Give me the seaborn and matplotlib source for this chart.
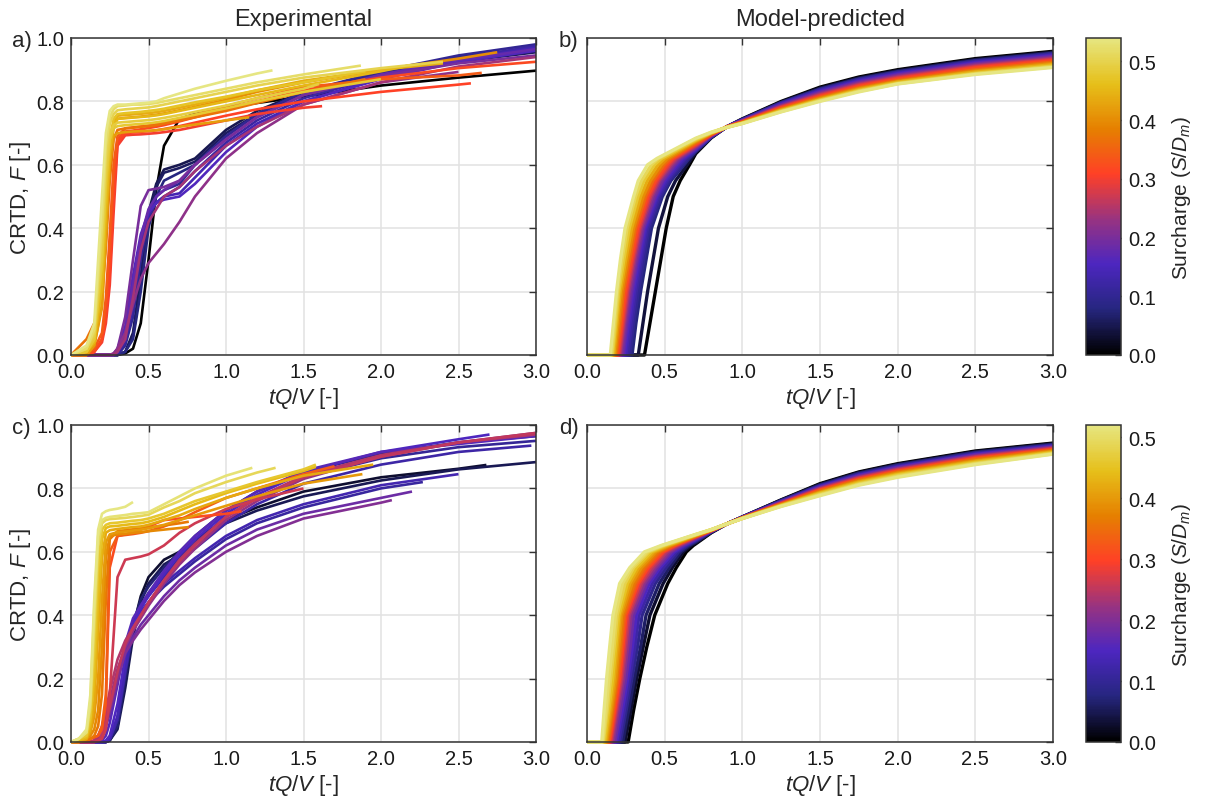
import numpy as np
import pandas as pd
import matplotlib
matplotlib.use("Agg")
import matplotlib.pyplot as plt
import matplotlib.colors as mcolors
import matplotlib.cm as mcm
import seaborn as sns


# tQ/V values at which the experimental curves were read (panel a / panel c)
grid_top = [0.0, 0.1, 0.15, 0.2, 0.225, 0.25, 0.275, 0.3, 0.35, 0.4, 0.45,
            0.5, 0.55, 0.6, 0.7, 0.8, 1.0, 1.2, 1.5, 2.0, 2.5, 3.0]
grid_bot = [0.0, 0.05, 0.1, 0.125, 0.15, 0.175, 0.2, 0.225, 0.25, 0.3, 0.35,
            0.4, 0.45, 0.5, 0.6, 0.7, 0.8, 1.0, 1.2, 1.5, 2.0, 2.5, 3.0]

# experimental, panel a: (surcharge S/Dm, last tQ/V of the record, F values)
exp_a = [
    (0.54, 1.30, [0, 0.03, 0.1, 0.5, 0.7, 0.77, 0.785, 0.79, 0.79, 0.792, 0.794, 0.796, 0.80, 0.81, 0.825, 0.84, 0.865, 0.888, 0.898]),
    (0.52, 1.87, [0, 0.02, 0.08, 0.42, 0.66, 0.75, 0.775, 0.785, 0.787, 0.79, 0.79, 0.792, 0.795, 0.80, 0.81, 0.82, 0.84, 0.86, 0.885, 0.913]),
    (0.50, 2.40, [0, 0.02, 0.07, 0.38, 0.62, 0.73, 0.76, 0.772, 0.775, 0.777, 0.779, 0.781, 0.785, 0.79, 0.80, 0.81, 0.83, 0.85, 0.875, 0.905, 0.925]),
    (0.49, 1.60, [0, 0.02, 0.06, 0.33, 0.58, 0.70, 0.725, 0.733, 0.735, 0.737, 0.739, 0.741, 0.744, 0.748, 0.757, 0.767, 0.787, 0.81, 0.84, 0.855]),
    (0.48, 2.00, [0, 0.01, 0.05, 0.30, 0.55, 0.68, 0.715, 0.722, 0.725, 0.727, 0.729, 0.731, 0.734, 0.738, 0.748, 0.758, 0.778, 0.80, 0.83, 0.87]),
    (0.47, 1.90, [0, 0.01, 0.05, 0.28, 0.52, 0.68, 0.745, 0.76, 0.763, 0.765, 0.767, 0.77, 0.773, 0.777, 0.787, 0.797, 0.815, 0.835, 0.86, 0.895]),
    (0.45, 2.20, [0, 0.01, 0.04, 0.22, 0.45, 0.64, 0.725, 0.745, 0.747, 0.749, 0.751, 0.753, 0.756, 0.76, 0.77, 0.78, 0.80, 0.82, 0.85, 0.895, 0.915]),
    (0.44, 2.40, [0, 0.01, 0.04, 0.22, 0.46, 0.65, 0.735, 0.755, 0.757, 0.759, 0.761, 0.763, 0.766, 0.77, 0.78, 0.79, 0.812, 0.835, 0.865, 0.90, 0.92]),
    (0.42, 1.15, [0, 0, 0.03, 0.16, 0.38, 0.60, 0.69, 0.70, 0.703, 0.705, 0.706, 0.707, 0.709, 0.712, 0.72, 0.727, 0.74, 0.75]),
    (0.40, 2.75, [0, 0, 0.03, 0.15, 0.36, 0.60, 0.72, 0.745, 0.748, 0.75, 0.752, 0.755, 0.758, 0.762, 0.772, 0.783, 0.805, 0.83, 0.86, 0.90, 0.935, 0.955]),
    (0.37, 1.90, [0, 0.05, 0.1, 0.2, 0.34, 0.55, 0.68, 0.71, 0.715, 0.717, 0.72, 0.722, 0.725, 0.73, 0.74, 0.75, 0.77, 0.795, 0.83, 0.87]),
    (0.34, 2.65, [0, 0, 0.02, 0.07, 0.18, 0.38, 0.60, 0.69, 0.715, 0.718, 0.721, 0.724, 0.728, 0.733, 0.745, 0.758, 0.785, 0.81, 0.845, 0.87, 0.882, 0.89]),
    (0.32, 3.00, [0, 0, 0.01, 0.05, 0.14, 0.30, 0.55, 0.68, 0.705, 0.708, 0.712, 0.716, 0.72, 0.725, 0.737, 0.75, 0.775, 0.80, 0.835, 0.875, 0.905, 0.925]),
    (0.31, 2.58, [0, 0, 0.01, 0.05, 0.12, 0.26, 0.50, 0.67, 0.70, 0.702, 0.704, 0.706, 0.709, 0.713, 0.722, 0.733, 0.755, 0.775, 0.80, 0.83, 0.853, 0.857]),
    (0.30, 1.62, [0, 0, 0.01, 0.04, 0.10, 0.22, 0.45, 0.66, 0.693, 0.695, 0.696, 0.698, 0.70, 0.703, 0.71, 0.72, 0.74, 0.76, 0.78, 0.785]),
    (0.00, 3.00, [0] * 8 + [0.005, 0.02, 0.1, 0.3, 0.52, 0.66, 0.745, 0.76, 0.78, 0.795, 0.815, 0.85, 0.875, 0.897]),
    (0.05, 3.00, [0] * 8 + [0.01, 0.07, 0.25, 0.45, 0.54, 0.585, 0.6, 0.62, 0.71, 0.77, 0.83, 0.89, 0.935, 0.962]),
    (0.06, 3.00, [0] * 8 + [0.01, 0.06, 0.22, 0.43, 0.53, 0.575, 0.59, 0.61, 0.70, 0.76, 0.82, 0.88, 0.925, 0.955]),
    (0.08, 3.00, [0] * 8 + [0.01, 0.05, 0.2, 0.4, 0.5, 0.55, 0.575, 0.6, 0.69, 0.76, 0.83, 0.89, 0.94, 0.97]),
    (0.10, 3.00, [0] * 7 + [0.0, 0.03, 0.12, 0.3, 0.43, 0.5, 0.52, 0.54, 0.6, 0.69, 0.76, 0.83, 0.895, 0.945, 0.98]),
    (0.12, 3.00, [0] * 7 + [0.005, 0.04, 0.15, 0.33, 0.44, 0.48, 0.50, 0.53, 0.58, 0.67, 0.74, 0.81, 0.88, 0.935, 0.975]),
    (0.14, 3.00, [0] * 7 + [0.01, 0.06, 0.2, 0.36, 0.45, 0.48, 0.5, 0.51, 0.56, 0.66, 0.73, 0.80, 0.875, 0.93, 0.97]),
    (0.16, 3.00, [0] * 7 + [0.02, 0.09, 0.25, 0.38, 0.45, 0.48, 0.49, 0.50, 0.54, 0.64, 0.72, 0.80, 0.87, 0.925, 0.96]),
    (0.18, 3.00, [0] * 7 + [0.01, 0.07, 0.22, 0.37, 0.46, 0.5, 0.52, 0.55, 0.6, 0.68, 0.75, 0.82, 0.885, 0.93, 0.965]),
    (0.20, 3.00, [0] * 6 + [0.005, 0.02, 0.12, 0.3, 0.47, 0.52, 0.525, 0.53, 0.55, 0.6, 0.68, 0.75, 0.82, 0.88, 0.92, 0.945]),
    (0.22, 2.50, [0] * 6 + [0.005, 0.02, 0.07, 0.16, 0.24, 0.29, 0.32, 0.35, 0.42, 0.5, 0.62, 0.70, 0.79, 0.86, 0.893]),
    (0.24, 3.00, [0] * 7 + [0.01, 0.05, 0.18, 0.33, 0.42, 0.46, 0.5, 0.53, 0.58, 0.66, 0.72, 0.79, 0.86, 0.91, 0.94]),
]

# experimental, panel c
exp_c = [
    (0.52, 0.40, [0, 0.01, 0.04, 0.15, 0.45, 0.67, 0.72, 0.728, 0.732, 0.736, 0.742, 0.757]),
    (0.51, 1.17, [0, 0.01, 0.03, 0.13, 0.42, 0.65, 0.70, 0.707, 0.71, 0.713, 0.716, 0.72, 0.722, 0.725, 0.75, 0.775, 0.80, 0.84, 0.865]),
    (0.49, 1.32, [0, 0.01, 0.03, 0.11, 0.36, 0.62, 0.69, 0.70, 0.703, 0.705, 0.707, 0.71, 0.713, 0.717, 0.74, 0.76, 0.785, 0.82, 0.85, 0.865]),
    (0.46, 1.58, [0, 0.01, 0.02, 0.08, 0.28, 0.55, 0.67, 0.685, 0.69, 0.692, 0.695, 0.698, 0.70, 0.705, 0.72, 0.74, 0.76, 0.79, 0.82, 0.86, 0.875]),
    (0.44, 1.58, [0, 0.005, 0.015, 0.06, 0.2, 0.45, 0.64, 0.675, 0.68, 0.682, 0.685, 0.688, 0.69, 0.695, 0.71, 0.73, 0.75, 0.785, 0.815, 0.855, 0.868]),
    (0.42, 1.95, [0, 0.005, 0.01, 0.04, 0.12, 0.35, 0.58, 0.66, 0.668, 0.672, 0.675, 0.678, 0.68, 0.685, 0.70, 0.715, 0.735, 0.77, 0.80, 0.84, 0.875]),
    (0.40, 1.88, [0, 0, 0.01, 0.03, 0.08, 0.2, 0.45, 0.63, 0.655, 0.662, 0.664, 0.667, 0.67, 0.674, 0.685, 0.70, 0.715, 0.745, 0.775, 0.815, 0.845]),
    (0.38, 0.76, [0, 0, 0.01, 0.02, 0.04, 0.1, 0.3, 0.58, 0.65, 0.655, 0.657, 0.66, 0.662, 0.665, 0.67, 0.675, 0.678]),
    (0.36, 0.76, [0, 0, 0.005, 0.01, 0.02, 0.05, 0.15, 0.45, 0.64, 0.665, 0.668, 0.671, 0.674, 0.677, 0.683, 0.69, 0.695]),
    (0.33, 1.70, [0, 0, 0.005, 0.01, 0.015, 0.02, 0.05, 0.15, 0.6, 0.65, 0.653, 0.656, 0.66, 0.665, 0.68, 0.70, 0.725, 0.77, 0.80, 0.845, 0.87]),
    (0.31, 1.10, [0, 0, 0.005, 0.01, 0.015, 0.02, 0.04, 0.12, 0.55, 0.65, 0.655, 0.66, 0.67, 0.68, 0.70, 0.705, 0.71, 0.72, 0.728]),
    (0.26, 1.50, [0, 0, 0, 0, 0, 0.005, 0.01, 0.04, 0.15, 0.52, 0.575, 0.58, 0.585, 0.592, 0.62, 0.66, 0.69, 0.735, 0.765, 0.80]),
    (0.03, 2.68, [0] * 8 + [0.005, 0.05, 0.2, 0.36, 0.46, 0.52, 0.575, 0.6, 0.64, 0.70, 0.74, 0.79, 0.835, 0.862, 0.874]),
    (0.05, 3.00, [0] * 8 + [0.005, 0.04, 0.17, 0.33, 0.44, 0.5, 0.56, 0.59, 0.625, 0.69, 0.73, 0.775, 0.825, 0.86, 0.883]),
    (0.07, 3.00, [0] * 8 + [0.005, 0.05, 0.2, 0.37, 0.45, 0.49, 0.55, 0.6, 0.65, 0.73, 0.79, 0.85, 0.91, 0.945, 0.965]),
    (0.10, 3.00, [0] * 8 + [0.01, 0.07, 0.22, 0.37, 0.43, 0.47, 0.53, 0.58, 0.63, 0.71, 0.77, 0.835, 0.895, 0.93, 0.95]),
    (0.11, 2.27, [0] * 8 + [0.01, 0.07, 0.22, 0.35, 0.41, 0.44, 0.49, 0.53, 0.57, 0.64, 0.69, 0.74, 0.8, 0.82]),
    (0.12, 2.97, [0] * 8 + [0.01, 0.08, 0.24, 0.38, 0.43, 0.46, 0.52, 0.57, 0.61, 0.69, 0.75, 0.815, 0.875, 0.915, 0.935]),
    (0.13, 2.50, [0] * 8 + [0.01, 0.08, 0.23, 0.36, 0.41, 0.44, 0.5, 0.54, 0.58, 0.65, 0.7, 0.75, 0.81, 0.845]),
    (0.15, 2.70, [0] * 7 + [0.005, 0.02, 0.12, 0.27, 0.37, 0.42, 0.46, 0.53, 0.59, 0.64, 0.72, 0.78, 0.85, 0.915, 0.955, 0.97]),
    (0.16, 3.00, [0] * 6 + [0.005, 0.02, 0.06, 0.18, 0.31, 0.39, 0.43, 0.47, 0.54, 0.6, 0.65, 0.73, 0.79, 0.855, 0.915, 0.94, 0.965]),
    (0.18, 2.20, [0] * 5 + [0.005, 0.02, 0.05, 0.09, 0.19, 0.29, 0.33, 0.37, 0.4, 0.46, 0.51, 0.55, 0.62, 0.67, 0.72, 0.77, 0.79]),
    (0.20, 2.07, [0] * 5 + [0.005, 0.02, 0.05, 0.1, 0.2, 0.28, 0.32, 0.355, 0.385, 0.445, 0.495, 0.535, 0.6, 0.65, 0.705, 0.755, 0.763]),
    (0.22, 3.00, [0] * 4 + [0.005, 0.015, 0.04, 0.08, 0.13, 0.23, 0.3, 0.35, 0.39, 0.43, 0.5, 0.56, 0.61, 0.7, 0.76, 0.83, 0.9, 0.945, 0.975]),
    (0.24, 3.00, [0] * 4 + [0.005, 0.02, 0.05, 0.1, 0.16, 0.26, 0.32, 0.36, 0.4, 0.44, 0.51, 0.575, 0.625, 0.71, 0.77, 0.84, 0.905, 0.945, 0.97]),
    (0.25, 3.00, [0] * 5 + [0.005, 0.02, 0.06, 0.11, 0.22, 0.31, 0.36, 0.4, 0.44, 0.51, 0.57, 0.62, 0.71, 0.77, 0.835, 0.9, 0.945, 0.975]),
]

# model-predicted curves: tQ/V where F reaches each rise level, then F at fixed tQ/V
rise_levels = [0.0, 0.1, 0.2, 0.3, 0.4, 0.5, 0.55, 0.6, 0.62]
tail_x = [0.7, 0.8, 0.9, 1.0, 1.25, 1.5, 1.75, 2.0, 2.5, 3.0]

model_b_s = [0.0, 0.04, 0.08, 0.10, 0.12, 0.14, 0.16, 0.18, 0.20, 0.23,
             0.26, 0.29, 0.32, 0.36, 0.40, 0.44, 0.48, 0.51, 0.54]
model_b_rise = [
    [0.37, 0.405, 0.44, 0.475, 0.51, 0.555, 0.60, 0.66, 0.683],
    [0.33, 0.36, 0.39, 0.425, 0.46, 0.52, 0.57, 0.645, 0.672],
    [0.29, 0.315, 0.345, 0.38, 0.415, 0.485, 0.54, 0.625, 0.658],
    [0.275, 0.30, 0.33, 0.365, 0.40, 0.475, 0.53, 0.615, 0.648],
    [0.262, 0.288, 0.317, 0.352, 0.39, 0.465, 0.52, 0.60, 0.636],
    [0.25, 0.277, 0.306, 0.342, 0.38, 0.455, 0.51, 0.59, 0.626],
    [0.24, 0.267, 0.296, 0.333, 0.372, 0.447, 0.50, 0.578, 0.615],
    [0.232, 0.258, 0.288, 0.325, 0.365, 0.44, 0.49, 0.568, 0.605],
    [0.225, 0.25, 0.28, 0.318, 0.36, 0.432, 0.482, 0.56, 0.597],
    [0.216, 0.242, 0.271, 0.309, 0.351, 0.42, 0.47, 0.548, 0.585],
    [0.209, 0.235, 0.262, 0.30, 0.342, 0.41, 0.46, 0.536, 0.573],
    [0.202, 0.228, 0.254, 0.292, 0.334, 0.40, 0.45, 0.524, 0.561],
    [0.196, 0.221, 0.246, 0.284, 0.325, 0.39, 0.44, 0.512, 0.55],
    [0.188, 0.212, 0.235, 0.273, 0.312, 0.377, 0.424, 0.496, 0.535],
    [0.18, 0.202, 0.224, 0.261, 0.30, 0.362, 0.408, 0.478, 0.518],
    [0.172, 0.193, 0.214, 0.249, 0.287, 0.345, 0.388, 0.456, 0.498],
    [0.164, 0.185, 0.205, 0.237, 0.272, 0.328, 0.367, 0.434, 0.478],
    [0.158, 0.178, 0.197, 0.225, 0.258, 0.312, 0.35, 0.414, 0.46],
    [0.15, 0.17, 0.19, 0.215, 0.245, 0.30, 0.33, 0.39, 0.45],
]
model_b_tail = [
    [0.635, 0.685, 0.72, 0.745, 0.80, 0.845, 0.877, 0.90, 0.935, 0.958],
    [0.638, 0.686, 0.72, 0.744, 0.798, 0.842, 0.874, 0.897, 0.932, 0.955],
    [0.642, 0.687, 0.72, 0.743, 0.796, 0.839, 0.871, 0.894, 0.929, 0.952],
    [0.644, 0.688, 0.72, 0.742, 0.795, 0.837, 0.869, 0.892, 0.927, 0.950],
    [0.646, 0.689, 0.72, 0.741, 0.793, 0.835, 0.867, 0.890, 0.925, 0.948],
    [0.648, 0.69, 0.72, 0.741, 0.792, 0.833, 0.865, 0.888, 0.923, 0.946],
    [0.65, 0.691, 0.72, 0.740, 0.790, 0.831, 0.863, 0.886, 0.921, 0.944],
    [0.652, 0.692, 0.72, 0.739, 0.789, 0.829, 0.861, 0.884, 0.919, 0.942],
    [0.654, 0.692, 0.72, 0.739, 0.787, 0.827, 0.859, 0.882, 0.917, 0.940],
    [0.657, 0.693, 0.72, 0.738, 0.785, 0.824, 0.856, 0.879, 0.914, 0.937],
    [0.66, 0.694, 0.72, 0.737, 0.783, 0.821, 0.853, 0.876, 0.911, 0.934],
    [0.663, 0.695, 0.72, 0.736, 0.781, 0.818, 0.85, 0.873, 0.908, 0.931],
    [0.666, 0.696, 0.719, 0.735, 0.779, 0.815, 0.847, 0.870, 0.905, 0.928],
    [0.669, 0.698, 0.719, 0.734, 0.776, 0.812, 0.843, 0.866, 0.900, 0.924],
    [0.673, 0.699, 0.719, 0.733, 0.774, 0.809, 0.84, 0.863, 0.896, 0.920],
    [0.676, 0.70, 0.719, 0.732, 0.772, 0.806, 0.837, 0.861, 0.893, 0.916],
    [0.679, 0.701, 0.718, 0.731, 0.770, 0.804, 0.834, 0.858, 0.889, 0.912],
    [0.682, 0.702, 0.718, 0.731, 0.768, 0.802, 0.832, 0.856, 0.887, 0.909],
    [0.684, 0.703, 0.718, 0.730, 0.767, 0.80, 0.83, 0.855, 0.885, 0.907],
]

model_d_s = [0.0, 0.03, 0.06, 0.09, 0.12, 0.15, 0.18, 0.21, 0.24, 0.27,
             0.30, 0.33, 0.36, 0.39, 0.42, 0.45, 0.48, 0.50, 0.52]
model_d_rise = [
    [0.265, 0.30, 0.34, 0.385, 0.436, 0.52, 0.575, 0.64, 0.685],
    [0.245, 0.282, 0.32, 0.362, 0.405, 0.49, 0.55, 0.62, 0.672],
    [0.23, 0.268, 0.305, 0.345, 0.38, 0.465, 0.53, 0.605, 0.66],
    [0.215, 0.252, 0.288, 0.325, 0.355, 0.44, 0.51, 0.59, 0.648],
    [0.203, 0.24, 0.275, 0.308, 0.335, 0.42, 0.49, 0.575, 0.636],
    [0.19, 0.227, 0.262, 0.292, 0.318, 0.40, 0.47, 0.56, 0.624],
    [0.18, 0.215, 0.25, 0.278, 0.30, 0.385, 0.455, 0.545, 0.612],
    [0.168, 0.202, 0.237, 0.262, 0.285, 0.37, 0.44, 0.53, 0.60],
    [0.158, 0.192, 0.226, 0.25, 0.272, 0.355, 0.425, 0.515, 0.588],
    [0.152, 0.185, 0.218, 0.24, 0.262, 0.343, 0.41, 0.50, 0.576],
    [0.145, 0.178, 0.21, 0.231, 0.252, 0.33, 0.395, 0.49, 0.567],
    [0.14, 0.17, 0.2, 0.222, 0.243, 0.318, 0.38, 0.475, 0.556],
    [0.133, 0.163, 0.192, 0.213, 0.233, 0.305, 0.365, 0.46, 0.545],
    [0.127, 0.156, 0.185, 0.204, 0.223, 0.29, 0.35, 0.445, 0.533],
    [0.12, 0.148, 0.175, 0.194, 0.213, 0.275, 0.333, 0.43, 0.521],
    [0.113, 0.14, 0.165, 0.185, 0.205, 0.26, 0.318, 0.415, 0.508],
    [0.105, 0.13, 0.152, 0.174, 0.194, 0.245, 0.30, 0.398, 0.495],
    [0.10, 0.122, 0.141, 0.163, 0.183, 0.228, 0.287, 0.385, 0.485],
    [0.095, 0.11, 0.126, 0.146, 0.167, 0.21, 0.275, 0.37, 0.478],
]
model_d_tail = [
    [0.625, 0.66, 0.688, 0.71, 0.764, 0.815, 0.852, 0.878, 0.918, 0.943],
    [0.628, 0.661, 0.688, 0.71, 0.763, 0.813, 0.85, 0.876, 0.916, 0.941],
    [0.631, 0.662, 0.688, 0.71, 0.762, 0.811, 0.848, 0.874, 0.914, 0.939],
    [0.634, 0.663, 0.688, 0.709, 0.761, 0.809, 0.846, 0.872, 0.912, 0.937],
    [0.637, 0.664, 0.688, 0.709, 0.759, 0.807, 0.843, 0.869, 0.909, 0.935],
    [0.639, 0.665, 0.688, 0.709, 0.758, 0.805, 0.841, 0.867, 0.907, 0.933],
    [0.641, 0.665, 0.688, 0.708, 0.757, 0.803, 0.839, 0.865, 0.905, 0.931],
    [0.643, 0.666, 0.688, 0.708, 0.755, 0.801, 0.836, 0.862, 0.902, 0.929],
    [0.645, 0.666, 0.688, 0.708, 0.754, 0.799, 0.834, 0.86, 0.90, 0.927],
    [0.647, 0.667, 0.688, 0.707, 0.753, 0.797, 0.832, 0.858, 0.898, 0.925],
    [0.648, 0.667, 0.688, 0.707, 0.751, 0.795, 0.829, 0.855, 0.895, 0.923],
    [0.649, 0.668, 0.688, 0.707, 0.75, 0.793, 0.827, 0.853, 0.893, 0.921],
    [0.65, 0.668, 0.688, 0.706, 0.749, 0.79, 0.825, 0.85, 0.89, 0.919],
    [0.651, 0.669, 0.688, 0.706, 0.748, 0.788, 0.822, 0.848, 0.887, 0.917],
    [0.652, 0.669, 0.688, 0.706, 0.747, 0.786, 0.82, 0.845, 0.885, 0.915],
    [0.653, 0.669, 0.688, 0.706, 0.746, 0.784, 0.817, 0.843, 0.882, 0.913],
    [0.654, 0.67, 0.688, 0.705, 0.745, 0.781, 0.814, 0.84, 0.879, 0.911],
    [0.6545, 0.67, 0.688, 0.705, 0.744, 0.779, 0.812, 0.837, 0.877, 0.909],
    [0.655, 0.67, 0.688, 0.705, 0.743, 0.777, 0.81, 0.835, 0.875, 0.908],
]

s_max_top = 0.54
s_max_bot = 0.52


def exp_frame(grid, curves):
    rows = []
    for i, (s, end, ys) in enumerate(curves):
        xs = [g for g in grid if g < end] + [end]
        assert len(xs) == len(ys), (s, end, len(xs), len(ys))
        rows += [(i, s, x, y) for x, y in zip(xs, ys)]
    return pd.DataFrame(rows, columns=["curve", "S", "tQV", "F"])


def model_frame(svals, rises, tails):
    rows = []
    for i, (s, rx, tf) in enumerate(zip(svals, rises, tails)):
        xs = [0.0] + rx + tail_x
        ys = [0.0] + rise_levels + tf
        assert len(xs) == len(ys)
        rows += [(i, s, x, y) for x, y in zip(xs, ys)]
    return pd.DataFrame(rows, columns=["curve", "S", "tQV", "F"])


sns.set_style("white")
plt.rcParams["font.family"] = ["Liberation Sans", "DejaVu Sans"]
plt.rcParams["mathtext.fontset"] = "custom"
plt.rcParams["mathtext.rm"] = "Liberation Sans"
plt.rcParams["mathtext.it"] = "Liberation Sans:italic"
plt.rcParams["mathtext.bf"] = "Liberation Sans:bold"

cmap = mcolors.ListedColormap(plt.get_cmap("CMRmap")(np.linspace(0, 0.875, 256)))
norm_top = mcolors.Normalize(0, s_max_top)
norm_bot = mcolors.Normalize(0, s_max_bot)

W, H = 1205, 803
fig = plt.figure(figsize=(W / 100, H / 100), dpi=100)


def px_axes(left, top, right, bottom):
    return fig.add_axes([left / W, 1 - bottom / H, (right - left) / W, (bottom - top) / H])


ax_a = px_axes(71, 39, 536, 356)
ax_b = px_axes(587, 39, 1053, 356)
cax_top = px_axes(1086, 39, 1121, 356)
ax_c = px_axes(71, 426, 536, 743)
ax_d = px_axes(587, 426, 1053, 743)
cax_bot = px_axes(1086, 426, 1121, 743)

panels = [
    (ax_a, exp_frame(grid_top, exp_a), norm_top, 1.9),
    (ax_b, model_frame(model_b_s, model_b_rise, model_b_tail), norm_top, 2.4),
    (ax_c, exp_frame(grid_bot, exp_c), norm_bot, 1.9),
    (ax_d, model_frame(model_d_s, model_d_rise, model_d_tail), norm_bot, 2.4),
]

for ax, df, norm, lw in panels:
    sns.lineplot(data=df, x="tQV", y="F", hue="S", units="curve", estimator=None,
                 sort=False, palette=cmap, hue_norm=norm, legend=False,
                 linewidth=lw, ax=ax)
    for ln in ax.lines:
        ln.set_clip_on(False)
        ln.set_solid_capstyle("butt")
        ln.set_solid_joinstyle("round")
    ax.set_xlim(0, 3)
    ax.set_ylim(0, 1)
    ax.set_xticks(np.arange(0, 3.01, 0.5))
    ax.set_yticks(np.arange(0, 1.01, 0.2))
    ax.xaxis.set_major_formatter(matplotlib.ticker.FormatStrFormatter("%.1f"))
    ax.yaxis.set_major_formatter(matplotlib.ticker.FormatStrFormatter("%.1f"))
    ax.grid(True, color="#e2e2e2", lw=1.1)
    ax.set_axisbelow(True)
    ax.tick_params(direction="in", top=True, right=True, length=5, width=1,
                   labelsize=14.5, color="#333333", labelcolor="#1a1a1a", pad=5)
    for sp in ax.spines.values():
        sp.set_color("#333333")
        sp.set_linewidth(1.1)
    ax.set_xlabel(r"$tQ/V$ [-]", fontsize=16, labelpad=3)
    ax.set_ylabel("")

for ax in (ax_a, ax_c):
    ax.set_ylabel(r"CRTD, $F$ [-]", fontsize=16, labelpad=2)
for ax in (ax_b, ax_d):
    ax.tick_params(labelleft=False)

for cax, norm in ((cax_top, norm_top), (cax_bot, norm_bot)):
    cb = fig.colorbar(mcm.ScalarMappable(norm=norm, cmap=cmap), cax=cax)
    cb.set_ticks([0, 0.1, 0.2, 0.3, 0.4, 0.5])
    cb.ax.yaxis.set_major_formatter(matplotlib.ticker.FormatStrFormatter("%.1f"))
    cb.ax.tick_params(direction="in", length=4, width=1, labelsize=14.5,
                      color="#333333", labelcolor="#1a1a1a", pad=5)
    cb.outline.set_edgecolor("#333333")
    cb.outline.set_linewidth(1.1)
    cb.set_label(r"Surcharge ($S/D_m$)", fontsize=15, labelpad=10)

fig.text(303 / W, 1 - 20 / H, "Experimental", ha="center", va="center", fontsize=17)
fig.text(820 / W, 1 - 20 / H, "Model-predicted", ha="center", va="center", fontsize=17)
for lab, x, y in (("a)", 12, 42), ("b)", 559, 42), ("c)", 12, 429), ("d)", 559, 429)):
    fig.text(x / W, 1 - y / H, lab, ha="left", va="center", fontsize=16)

fig.savefig("out.png", dpi=100)
